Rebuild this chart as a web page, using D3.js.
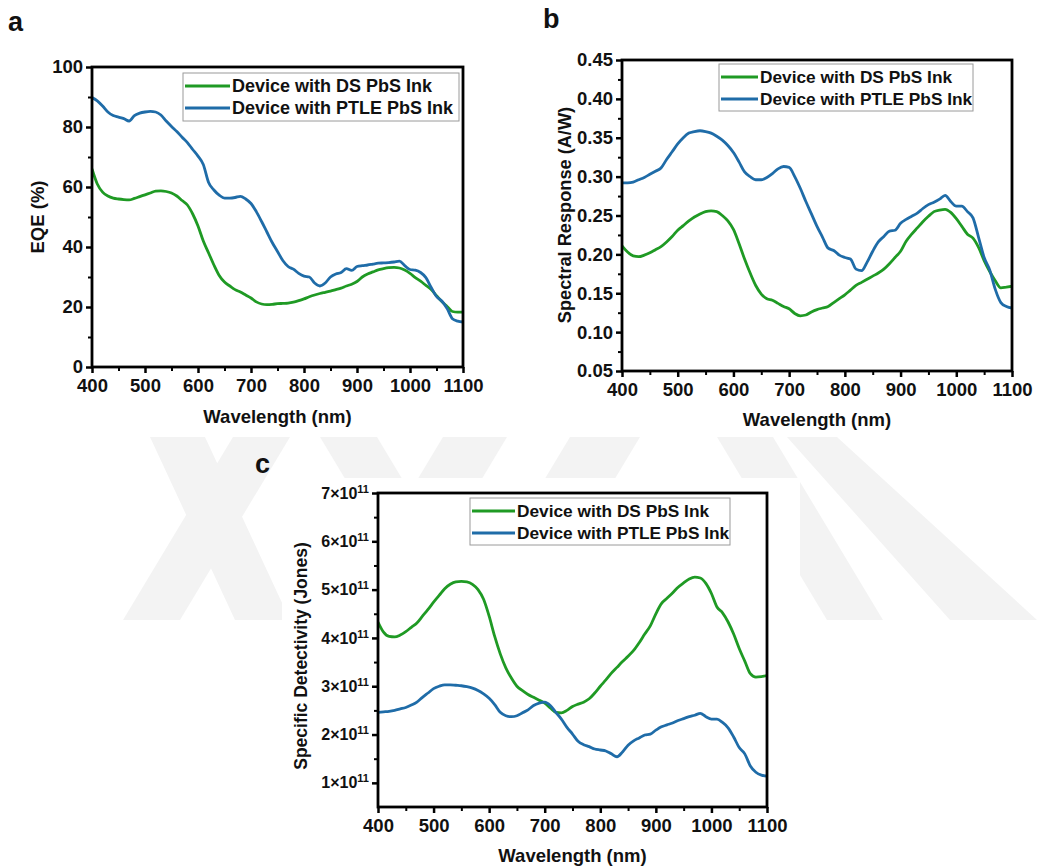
<!DOCTYPE html>
<html>
<head>
<meta charset="utf-8">
<script src="https://cdn.jsdelivr.net/npm/d3@7"></script>
<style>
  html, body { margin: 0; padding: 0; background: #fff; }
  svg { display: block; }
  text { font-family: "Liberation Sans", Arial, sans-serif; font-weight: bold; fill: #111; }
</style>
</head>
<body>
<svg id="chart" width="1037" height="868"></svg>
<script>
// ---------------- DATA ----------------
const wavelength = [400,410,420,430,440,450,460,470,480,490,500,510,520,530,540,550,560,570,580,590,
  600,610,620,630,640,650,660,670,680,690,700,710,720,730,740,750,760,770,780,790,
  800,810,820,830,840,850,860,870,880,890,900,910,920,930,940,950,960,970,980,990,
  1000,1010,1020,1030,1040,1050,1060,1070,1080,1090,1100];

const seriesNames = ["Device with DS PbS Ink", "Device with PTLE PbS Ink"];

// Panel a: EQE (%)
const eqeDS = [66,61,58.3,57,56.3,56,55.8,55.7,56.2,56.8,57.4,58,58.6,58.7,58.5,58,57,55.5,54,51,
  47,42,38,34,30.5,28.3,27,25.8,25,24,23,21.7,21,20.8,20.9,21.1,21.2,21.3,21.6,22.1,
  22.7,23.4,24,24.5,24.9,25.3,25.8,26.3,27,27.6,28.5,30,31,31.7,32.4,32.8,33.1,33.2,33,32.3,
  31.2,29.8,28.6,27.2,25.8,23.8,21.8,20.2,18.5,18.3,18.3];
const eqePTLE = [89.8,88.7,87,85,83.8,83.3,82.8,82,83.8,84.6,85,85.2,85,84,82,80.2,78.5,76.6,74.8,72.5,
  70.3,67.5,61.5,59,57.3,56.3,56.3,56.5,56.9,56,54.5,51.8,48.5,45,41.5,38.5,35.5,33.5,32.6,31.2,
  30.3,30,28,27,28,30,31,31.5,32.8,32.2,33.5,33.8,34,34.3,34.6,34.7,34.8,35,35.3,33.8,
  32.5,32.3,31.5,29.8,26.5,23.5,22,19.5,16.1,15.3,15];

// Panel b: Spectral response (A/W)
const srDS = [.211,.203,.198,.197,.199,.202,.206,.210,.216,.223,.231,.237,.243,.248,.252,.255,.256,.255,.250,.243,
  .232,.214,.194,.176,.160,.149,.143,.141,.137,.133,.130,.124,.121,.122,.126,.129,.131,.133,.138,.143,
  .148,.154,.160,.164,.168,.172,.176,.181,.188,.196,.204,.217,.226,.234,.242,.249,.255,.257,.258,.254,
  .246,.236,.226,.221,.209,.192,.178,.166,.157,.158,.159];
const srPTLE = [.292,.292,.293,.296,.299,.303,.307,.311,.322,.332,.342,.350,.356,.358,.359,.358,.356,.352,.347,.340,
  .331,.319,.306,.300,.296,.296,.299,.304,.310,.313,.312,.300,.285,.268,.252,.236,.222,.208,.205,.199,
  .196,.194,.181,.179,.190,.204,.216,.223,.230,.231,.240,.245,.249,.253,.259,.264,.267,.271,.276,.268,
  .262,.262,.255,.247,.222,.196,.180,.155,.138,.133,.131];

// Panel c: Specific detectivity (Jones), in units of 1e11
const detDS = [4.33,4.12,4.03,4.02,4.06,4.13,4.22,4.31,4.45,4.59,4.74,4.88,5.02,5.11,5.16,5.17,5.16,5.11,5.0,4.8,
  4.45,4.03,3.67,3.38,3.17,3.0,2.91,2.83,2.77,2.71,2.65,2.55,2.46,2.45,2.50,2.58,2.63,2.67,2.74,2.86,
  3.0,3.13,3.27,3.39,3.51,3.62,3.74,3.9,4.08,4.25,4.5,4.71,4.82,4.93,5.05,5.14,5.22,5.26,5.24,5.13,
  4.92,4.64,4.52,4.33,4.08,3.78,3.52,3.26,3.19,3.2,3.22];
const detPTLE = [2.46,2.47,2.48,2.50,2.53,2.56,2.61,2.67,2.77,2.86,2.95,3.0,3.03,3.03,3.02,3.01,2.99,2.96,2.91,2.84,
  2.75,2.62,2.46,2.39,2.37,2.39,2.45,2.51,2.60,2.65,2.67,2.60,2.46,2.32,2.15,2.01,1.86,1.79,1.75,1.70,
  1.68,1.66,1.60,1.54,1.64,1.78,1.87,1.93,1.99,2.01,2.09,2.16,2.20,2.24,2.29,2.33,2.37,2.40,2.44,2.37,
  2.32,2.32,2.25,2.14,1.95,1.73,1.60,1.35,1.22,1.16,1.14];

const xTicks = [400,500,600,700,800,900,1000,1100];
const eqeTicks = [0,20,40,60,80,100];
const srTicks = [0.05,0.10,0.15,0.20,0.25,0.30,0.35,0.40,0.45];
const detTicks = [1,2,3,4,5,6,7];

// ---------------- STYLE ----------------
const COL_DS = "#1f9a24";
const COL_PTLE = "#1f6ca8";

const svg = d3.select("#chart");

// Watermark (faint background logo bands)
const wm = svg.append("g").attr("fill", "#f3f3f3");
const bands = [
  [[233,437],[290,437],[180,620],[123,620]],
  [[150,437],[205,437],[290,620],[235,620]],
  [[320,437],[377,437],[487,620],[430,620]],
  [[443,437],[507,437],[397,620],[333,620]],
  [[570,437],[640,437],[530,620],[460,620]],
  [[717,437],[773,437],[883,620],[827,620]],
  [[787,437],[837,437],[1037,620],[950,620]]
];
bands.forEach(b => wm.append("polygon").attr("points", b.map(p => p.join(",")).join(" ")));

// White background of panel c figure
svg.append("rect").attr("x", 282).attr("y", 478).attr("width", 518).attr("height", 390).attr("fill", "#fff");

function panel(cfg) {
  const g = svg.append("g");
  const x = d3.scaleLinear().domain([400, 1100]).range([cfg.left, cfg.right]);
  const y = d3.scaleLinear().domain(cfg.yDomain).range([cfg.bottom, cfg.top]);

  // minor ticks
  const xMinor = xTicks.slice(0, -1).map(v => v + 50);
  g.append("g").attr("transform", `translate(0,${cfg.bottom})`)
    .call(d3.axisBottom(x).tickValues(xMinor).tickSize(4).tickFormat(""))
    .call(s => s.select(".domain").remove())
    .call(s => s.selectAll("line").attr("stroke", "#000").attr("stroke-width", 2));
  const yMinor = cfg.yTicks.slice(0, -1).map((v, i) => (v + cfg.yTicks[i + 1]) / 2);
  g.append("g").attr("transform", `translate(${cfg.left},0)`)
    .call(d3.axisLeft(y).tickValues(yMinor).tickSize(4).tickFormat(""))
    .call(s => s.select(".domain").remove())
    .call(s => s.selectAll("line").attr("stroke", "#000").attr("stroke-width", 2));

  // major x axis
  const xa = g.append("g").attr("transform", `translate(0,${cfg.bottom})`)
    .call(d3.axisBottom(x).tickValues(xTicks).tickSize(6).tickPadding(cfg.xPad).tickFormat(d3.format("d")));
  xa.select(".domain").remove();
  xa.selectAll("line").attr("stroke", "#000").attr("stroke-width", 2.5);
  xa.selectAll("text").attr("font-size", cfg.tickSize + "px").attr("fill", "#111")
    .style("font-family", '"Liberation Sans", Arial, sans-serif').style("font-weight", "bold");

  // major y axis
  const ya = g.append("g").attr("transform", `translate(${cfg.left},0)`)
    .call(d3.axisLeft(y).tickValues(cfg.yTicks).tickSize(6).tickPadding(3).tickFormat(cfg.yFormat || null));
  ya.select(".domain").remove();
  ya.selectAll("line").attr("stroke", "#000").attr("stroke-width", 2.5);
  ya.selectAll("text").attr("font-size", cfg.yTickSize + "px").attr("fill", "#111")
    .style("font-family", '"Liberation Sans", Arial, sans-serif').style("font-weight", "bold");
  if (cfg.sci) {
    ya.selectAll("text").text(null).each(function(d) {
      const t = d3.select(this);
      t.append("tspan").text(d + "\u00d710");
      t.append("tspan").attr("dy", "-0.55em").attr("font-size", "11px").text("11");
    });
  }

  // lines
  const clipId = "clip" + cfg.id;
  svg.append("clipPath").attr("id", clipId).append("rect")
    .attr("x", cfg.left).attr("y", cfg.top).attr("width", cfg.right - cfg.left).attr("height", cfg.bottom - cfg.top);
  const line = d3.line().x((d, i) => x(wavelength[i])).y(d => y(d)).curve(d3.curveMonotoneX);
  const lg = g.append("g").attr("clip-path", `url(#${clipId})`);
  lg.append("path").datum(cfg.ds).attr("d", line).attr("fill", "none").attr("stroke", COL_DS)
    .attr("stroke-width", 2.8).attr("stroke-linejoin", "round");
  lg.append("path").datum(cfg.ptle).attr("d", line).attr("fill", "none").attr("stroke", COL_PTLE)
    .attr("stroke-width", 2.8).attr("stroke-linejoin", "round");

  // frame
  g.append("rect").attr("x", cfg.left).attr("y", cfg.top)
    .attr("width", cfg.right - cfg.left).attr("height", cfg.bottom - cfg.top)
    .attr("fill", "none").attr("stroke", "#000").attr("stroke-width", 2.8);

  // legend
  const L = cfg.legend;
  g.append("rect").attr("x", L.x).attr("y", L.y).attr("width", L.w).attr("height", L.h)
    .attr("fill", "#fff").attr("stroke", "#9a9a9a").attr("stroke-width", 1);
  [COL_DS, COL_PTLE].forEach((c, i) => {
    const yy = L.y + L.row0 + i * L.dy;
    g.append("line").attr("x1", L.x + 2).attr("x2", L.x + L.lineLen).attr("y1", yy).attr("y2", yy)
      .attr("stroke", c).attr("stroke-width", 3);
    g.append("text").attr("x", L.x + L.lineLen + 2).attr("y", yy).attr("dy", "0.36em")
      .attr("font-size", L.font + "px").text(seriesNames[i]);
  });

  // axis titles
  g.append("text").attr("x", (cfg.left + cfg.right) / 2).attr("y", cfg.xTitleY)
    .attr("text-anchor", "middle").attr("font-size", cfg.titleSize + "px").text("Wavelength (nm)");
  g.append("text").attr("transform", `translate(${cfg.yTitleX},${cfg.yTitleCY}) rotate(-90)`)
    .attr("text-anchor", "middle").attr("font-size", cfg.yTitleSize + "px").text(cfg.yTitle);

  // panel letter
  g.append("text").attr("x", cfg.letter[0]).attr("y", cfg.letter[1]).attr("font-size", "27px").text(cfg.id);
}

panel({
  id: "a", left: 92, right: 463, top: 67, bottom: 367,
  yDomain: [0, 100], yTicks: eqeTicks, ds: eqeDS, ptle: eqePTLE,
  xPad: 6, tickSize: 18.5, yTickSize: 18.5,
  legend: { x: 183, y: 73, w: 276, h: 48, row0: 13, dy: 22, lineLen: 47, font: 18 },
  xTitleY: 423, titleSize: 18.5, yTitleX: 44, yTitleCY: 217, yTitleSize: 18.5, yTitle: "EQE (%)",
  letter: [8, 31]
});

panel({
  id: "b", left: 622, right: 1012, top: 60, bottom: 371,
  yDomain: [0.05, 0.45], yTicks: srTicks, ds: srDS, ptle: srPTLE,
  yFormat: d3.format(".2f"),
  xPad: 6, tickSize: 18.5, yTickSize: 18.5,
  legend: { x: 719, y: 64, w: 254, h: 47, row0: 13, dy: 22, lineLen: 39, font: 17.3 },
  xTitleY: 426, titleSize: 18.5, yTitleX: 571, yTitleCY: 215, yTitleSize: 18.2, yTitle: "Spectral Response (A/W)",
  letter: [543, 28]
});

panel({
  id: "c", left: 378, right: 767, top: 493, bottom: 807,
  yDomain: [0.5, 7], yTicks: detTicks, ds: detDS, ptle: detPTLE, sci: true,
  xPad: 6, tickSize: 18.5, yTickSize: 16,
  legend: { x: 470, y: 498, w: 260, h: 47, row0: 13, dy: 22, lineLen: 45, font: 17.3 },
  xTitleY: 862, titleSize: 18.5, yTitleX: 307, yTitleCY: 656, yTitleSize: 17.5, yTitle: "Specific Detectivity (Jones)",
  letter: [255, 473]
});
</script>
</body>
</html>
